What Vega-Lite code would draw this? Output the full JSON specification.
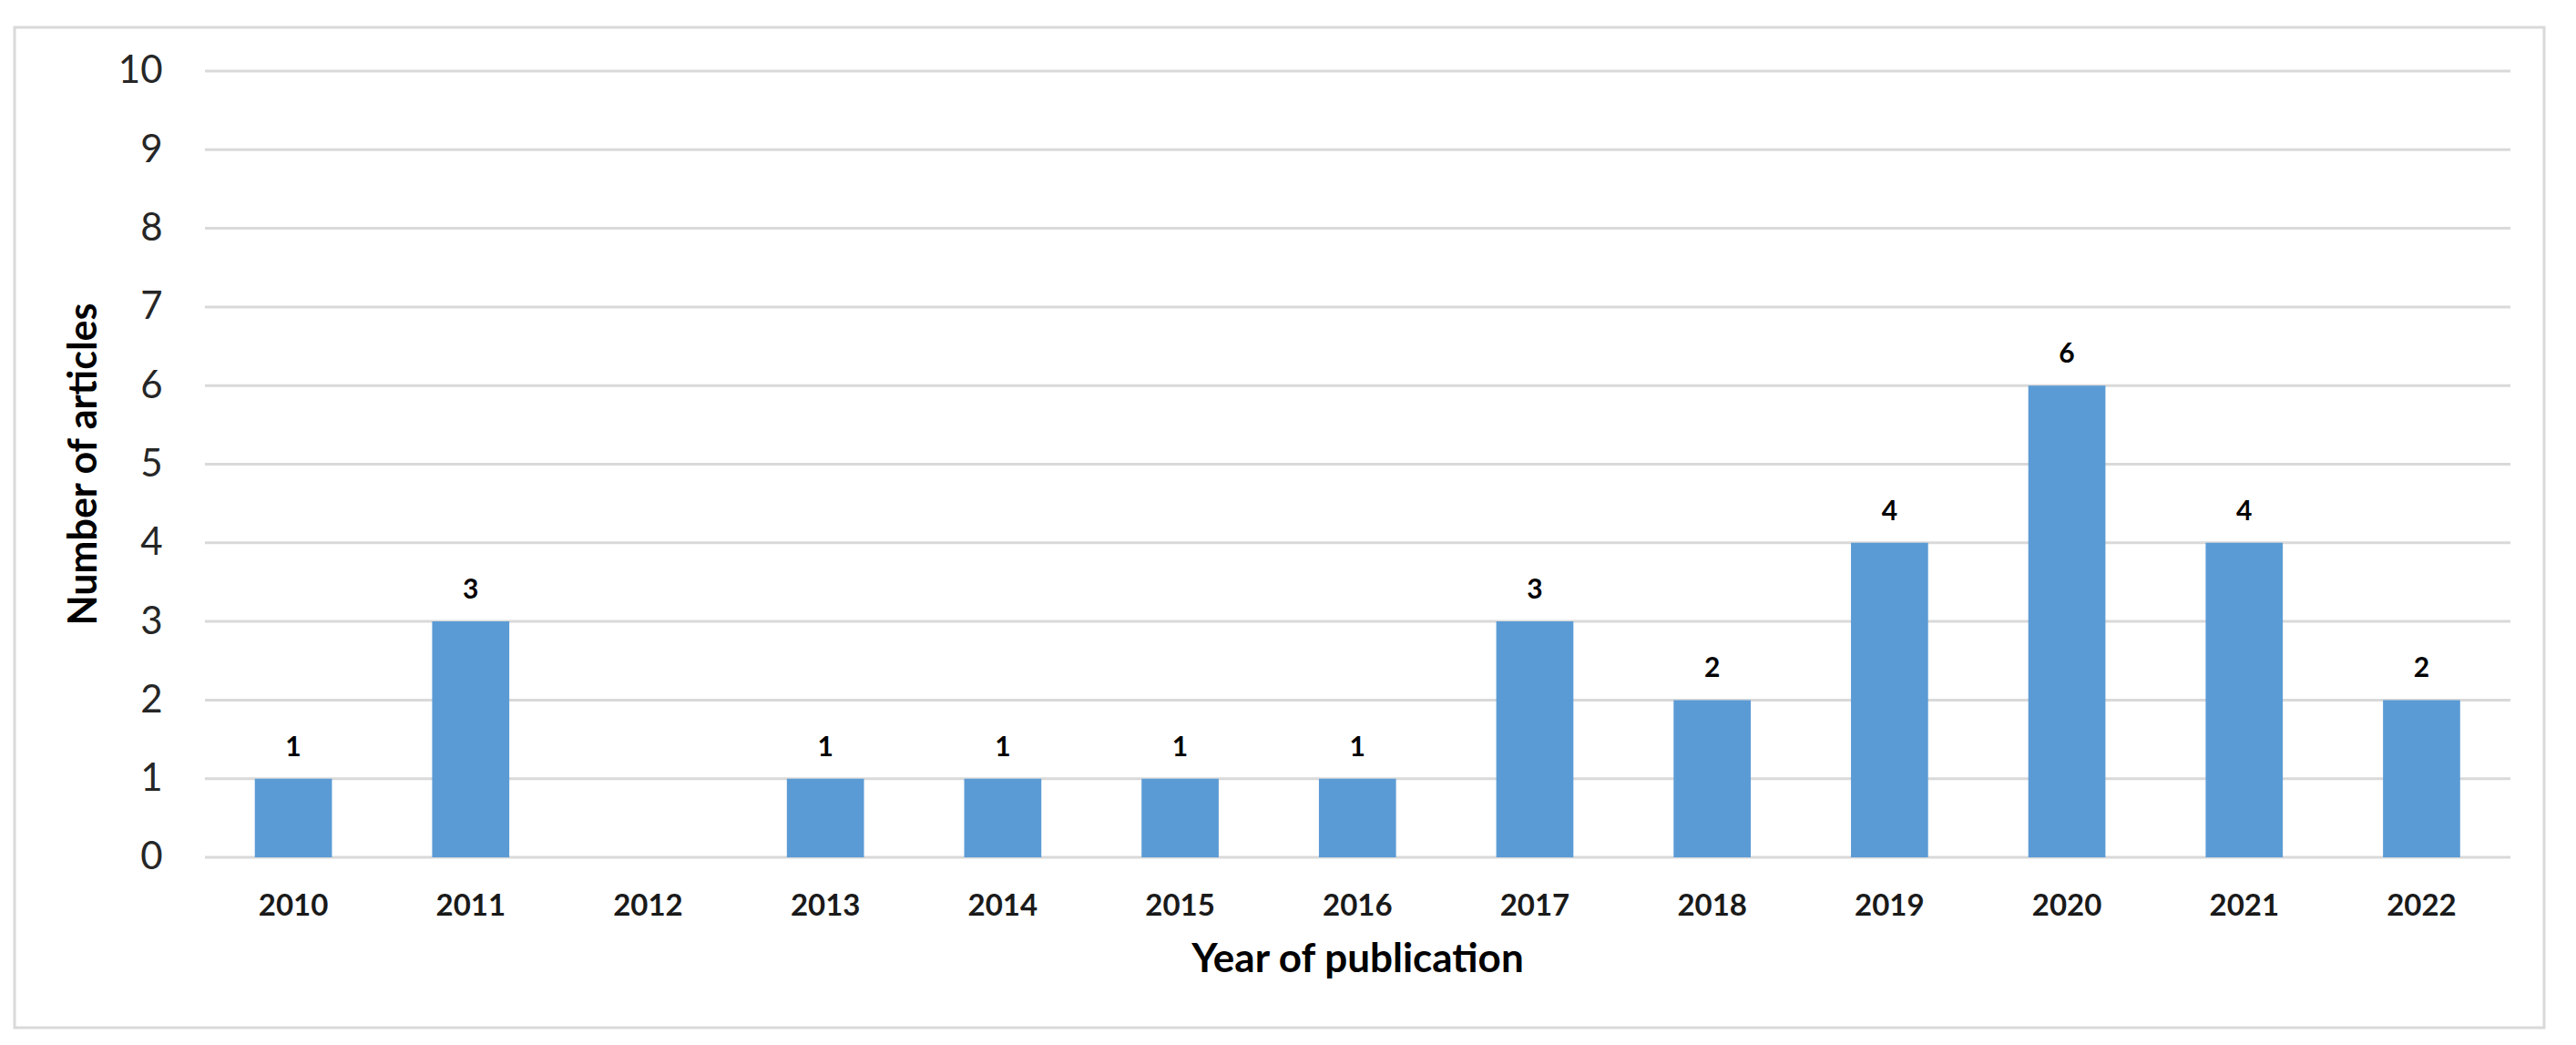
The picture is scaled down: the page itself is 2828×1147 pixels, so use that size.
{
  "$schema": "https://vega.github.io/schema/vega-lite/v6.json",
  "autosize": {"type": "none"},
  "width": 2777,
  "height": 1098,
  "padding": {"left": 16, "top": 30, "right": 35, "bottom": 19},
  "background": "white",
  "config": {
    "view": {"stroke": "#d9d9d9", "strokeWidth": 3},
    "font": "Lato"
  },
  "layer": [
    {
      "data": {"values": [{"g": 0}, {"g": 1}, {"g": 2}, {"g": 3}, {"g": 4}, {"g": 5}, {"g": 6}, {"g": 7}, {"g": 8}, {"g": 9}, {"g": 10}]},
      "mark": {"type": "rule", "color": "#d9d9d9", "strokeWidth": 3},
      "encoding": {
        "x": {"datum": 0, "type": "quantitative", "scale": {"domain": [-0.08258, 1.01462], "nice": false, "zero": false}, "axis": null},
        "x2": {"datum": 1},
        "y": {
          "field": "g", "type": "quantitative",
          "scale": {"domain": [-2.167, 10.556], "nice": false, "zero": false},
          "axis": {
            "title": "Number of articles",
            "orient": "left",
            "offset": -210,
            "values": [0, 1, 2, 3, 4, 5, 6, 7, 8, 9, 10],
            "format": "d",
            "grid": false,
            "domain": false,
            "ticks": false,
            "labelFont": "Lato",
            "labelFontSize": 42,
            "labelColor": "#262626",
            "labelPadding": 48,
            "titleFont": "Lato",
            "titleFontSize": 43,
            "titleFontWeight": "bold",
            "titleColor": "#000000",
            "titleAngle": -90,
            "titleBaseline": "middle",
            "titleAlign": "center",
            "titleX": -134,
            "titleY": 479
          }
        }
      }
    },
    {
      "data": {"values": [
        {"year": "2010", "count": 1},
        {"year": "2011", "count": 3},
        {"year": "2012", "count": 0},
        {"year": "2013", "count": 1},
        {"year": "2014", "count": 1},
        {"year": "2015", "count": 1},
        {"year": "2016", "count": 1},
        {"year": "2017", "count": 3},
        {"year": "2018", "count": 2},
        {"year": "2019", "count": 4},
        {"year": "2020", "count": 6},
        {"year": "2021", "count": 4},
        {"year": "2022", "count": 2}
      ]},
      "encoding": {
        "x": {
          "field": "year", "type": "ordinal",
          "scale": {"paddingInner": 0.565, "paddingOuter": 0.914, "align": 0.741},
          "axis": {
            "title": "Year of publication",
            "orient": "bottom",
            "offset": -187,
            "domain": false,
            "ticks": false,
            "labelAngle": 0,
            "labelFont": "Lato",
            "labelFontSize": 33,
            "labelFontWeight": "bold",
            "labelColor": "#1a1a1a",
            "labelPadding": 37,
            "titleFont": "Lato",
            "titleFontSize": 44,
            "titleFontWeight": "bold",
            "titleColor": "#000000",
            "titlePadding": 20,
            "titleX": 1474
          }
        }
      },
      "layer": [
        {
          "mark": {"type": "bar", "color": "#5b9bd5"},
          "encoding": {
            "y": {"field": "count", "type": "quantitative"},
            "y2": {"datum": 0}
          }
        },
        {
          "transform": [{"filter": "datum.count > 0"}],
          "mark": {"type": "text", "baseline": "alphabetic", "dy": -25, "fontSize": 30, "fontWeight": "bold", "font": "Lato", "color": "#000000"},
          "encoding": {
            "y": {"field": "count", "type": "quantitative"},
            "text": {"field": "count", "type": "quantitative"}
          }
        }
      ]
    }
  ],
  "resolve": {"scale": {"x": "independent"}}
}
